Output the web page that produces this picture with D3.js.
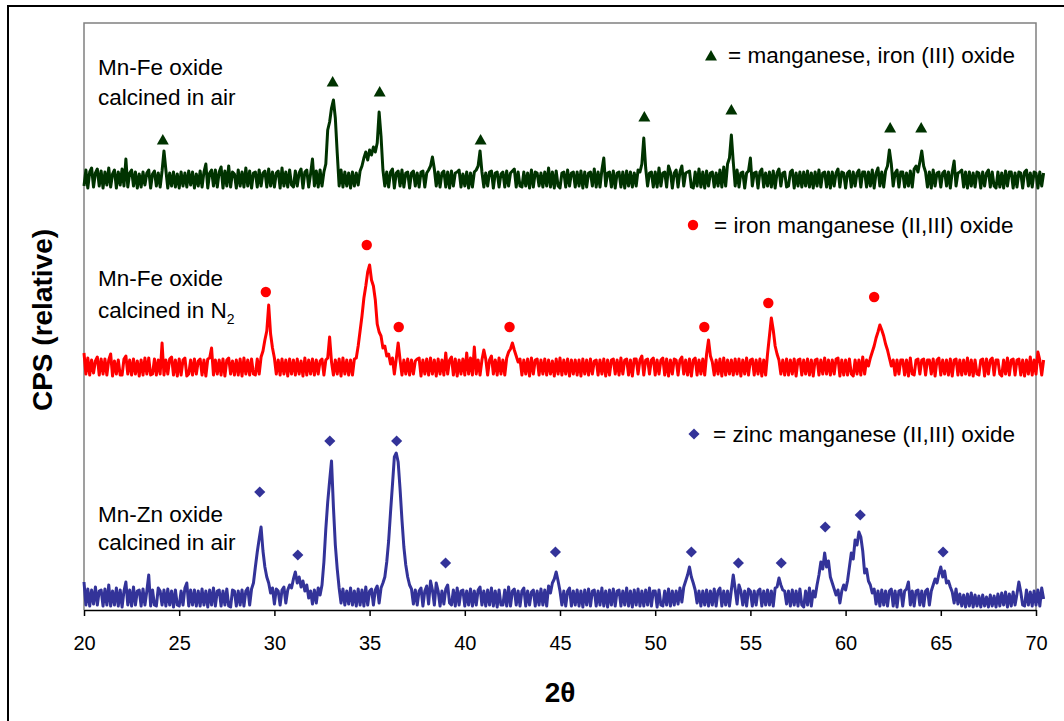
<!DOCTYPE html>
<html>
<head>
<meta charset="utf-8">
<script src="https://cdn.jsdelivr.net/npm/d3@7"></script>
<style>
  body { margin: 0; background: #fff; }
  svg text { font-family: "Liberation Sans", Arial, sans-serif; fill: #000; }
</style>
</head>
<body>
<svg id="chart" width="1064" height="721"></svg>
<script>
// scan grid (degrees 2-theta)
var scanStart = 20, scanStep = 0.1;

// relative counts above each trace's own baseline (one row = 1 degree)
var airFeCounts = [
  2,18,0,16,20,1,15,19,2,17, 0,16,3,20,1,14,18,0,16,3, 19,2,29,1,15,18,2,16,0,14,
  1,16,3,15,18,0,14,17,2,15, 1,17,37,18,0,15,2,16,1,14, 0,16,2,15,1,17,3,16,0,14,
  2,17,1,16,24,0,15,18,2,18, 1,16,21,0,17,2,22,1,16,14, 0,18,2,16,1,20,2,17,0,15,
  16,1,18,2,15,17,1,19,2,16, 1,15,17,0,20,2,16,1,18,3, 1,17,2,15,19,0,16,18,1,14,
  29,2,17,1,18,2,16,24,58,66, 80,88,70,35,2,18,1,16,2,15, 0,16,2,15,3,17,22,30,36,28,
  38,33,41,36,45,76,52,18,2,16, 1,16,19,0,15,17,2,18,1,15, 16,0,15,17,2,15,1,16,17,1,
  15,18,22,31,19,2,16,1,15,17, 1,16,0,17,2,15,16,18,1,14, 2,16,0,15,1,16,18,22,37,16,
  1,15,2,16,17,0,15,16,1,14, 16,1,17,2,15,17,19,1,16,2, 1,16,2,15,0,18,1,16,15,2,
  15,1,16,2,20,1,16,0,17,2, 0,15,16,1,18,2,15,16,1,16, 2,17,0,16,1,15,16,2,19,1,
  16,1,18,30,2,15,16,1,17,0, 15,16,1,16,0,17,2,16,1,15, 2,18,16,24,50,20,2,15,16,1,
  16,1,20,2,15,16,1,22,16,0, 15,18,1,16,22,2,15,16,17,1, 0,16,2,19,1,16,0,17,2,15,
  16,1,15,2,18,1,21,2,24,30, 53,26,2,18,1,15,16,0,15,17, 30,2,15,16,0,16,19,1,15,2,
  16,1,17,0,15,19,2,15,16,1, 2,16,18,0,15,2,16,1,16,2, 17,1,15,0,16,2,18,1,15,16,
  1,16,0,16,2,15,19,1,16,15, 0,15,17,1,16,2,15,18,1,16, 16,1,16,2,18,0,15,20,2,16,
  1,17,22,38,24,2,15,18,1,16, 16,1,15,2,17,1,19,22,16,26, 37,22,16,1,16,0,18,2,15,16,
  1,15,17,2,16,0,16,27,2,15, 16,18,1,16,0,16,2,15,1,16, 15,0,16,2,15,18,1,16,2,0,
  16,1,15,0,17,2,16,16,0,15, 1,16,15,0,16,18,2,15,1,16, 15,0,16,2,15
];
var nitrogenFeCounts = [
  23,2,18,1,16,3,15,19,1,17, 2,17,1,16,22,0,15,2,16,1, 1,17,20,2,16,1,17,2,15,0,
  16,1,18,2,18,1,2,17,1,16, 2,33,1,16,2,17,19,1,16,0, 17,1,16,18,0,2,16,1,17,2,
  15,17,1,16,0,17,18,28,1,16, 2,16,1,17,0,16,18,2,15,1, 16,1,17,0,18,2,16,1,17,2,
  1,17,2,19,25,36,45,71,42,28, 18,2,16,1,17,2,16,0,17,2, 16,1,17,2,15,0,18,1,16,2,
  17,1,16,2,15,17,1,16,18,39, 14,1,16,2,17,0,18,2,16,1, 16,1,17,18,30,45,60,78,90,104,
  111,96,90,76,52,44,40,28,30,20, 22,12,18,2,17,33,16,1,16,2, 17,1,16,2,15,17,18,0,16,2,
  17,1,18,2,16,0,17,2,16,1, 23,2,16,19,1,17,0,16,2,17, 1,23,2,18,1,29,2,16,1,16,
  26,17,1,16,20,2,16,1,18,2, 16,1,18,24,27,33,26,20,14,17, 1,16,2,17,0,18,2,16,17,1,
  16,2,17,1,16,2,15,0,17,2, 18,1,16,2,17,0,16,2,16,1, 16,0,17,2,16,1,17,2,15,16,
  1,16,2,17,0,16,1,16,17,2, 16,1,18,2,16,17,1,16,0,17, 17,2,16,20,1,16,17,2,16,18,
  1,16,2,16,18,1,17,0,16,2, 17,16,1,16,19,2,16,1,17,0, 16,18,1,16,2,17,1,22,36,20,
  14,1,16,2,17,0,18,1,16,2, 16,1,17,2,17,0,16,2,18,1, 16,17,1,16,2,17,0,16,1,22,
  40,58,46,30,22,16,2,16,1,17, 1,16,2,17,0,16,17,1,16,2, 17,1,16,0,16,17,1,16,2,18,
  2,16,1,16,2,17,18,0,16,1, 16,1,17,2,0,16,2,16,1,19, 2,16,10,18,24,30,38,44,51,46,
  40,32,26,18,10,16,1,16,2,16, 16,1,16,0,18,2,1,16,17,2, 16,17,1,16,16,2,17,0,16,18,
  1,16,2,16,1,17,0,16,17,1, 16,1,16,2,18,1,16,0,16,2, 1,16,17,0,17,2,16,18,1,16,
  16,2,0,16,2,18,1,16,17,1, 16,17,1,16,0,16,2,19,1,16, 2,24,16,1,16
];
var airZnCounts = [
  25,2,18,1,17,3,20,2,16,17, 1,18,2,22,1,16,2,19,1,17, 0,16,25,2,17,1,20,2,16,17,
  1,18,2,16,32,1,17,2,1,19, 16,2,17,1,18,2,16,0,17,2, 1,16,2,19,24,1,17,2,17,1,
  16,1,18,2,16,0,17,2,19,1, 16,17,1,16,2,18,1,0,17,16, 1,16,2,17,1,16,19,2,18,24,
  40,55,68,80,56,40,30,24,14,19, 3,18,16,2,17,20,4,17,22,19, 28,35,24,30,20,26,16,22,9,16,
  3,17,4,19,12,22,45,78,105,126, 146,100,62,38,19,4,18,2,16,3, 19,2,16,1,18,2,17,1,20,2,
  16,18,2,17,21,4,19,24,30,45, 66,95,122,150,154,145,118,87,60,42, 30,22,18,3,17,2,16,19,1,16,
  21,3,26,17,2,24,16,1,16,3, 18,22,4,2,17,1,19,2,16,17, 1,16,2,18,1,16,2,17,20,2,
  16,1,17,2,19,1,16,0,17,2, 2,17,1,20,1,16,18,2,16,1, 16,19,1,16,2,15,17,1,16,2,
  18,2,17,1,21,14,24,28,35,26, 16,2,16,1,16,19,1,16,2,17, 1,16,0,17,2,18,1,16,17,1,
  16,2,19,1,16,0,17,2,18,1, 16,17,1,16,2,19,1,16,0,17, 2,18,1,16,1,17,2,19,1,16,
  16,0,17,2,1,16,2,18,1,16, 2,16,3,19,5,20,26,32,40,30, 24,17,4,16,1,16,2,17,1,16,
  2,18,1,16,19,1,16,2,16,1, 17,32,18,3,22,16,2,16,1,18, 16,1,16,2,16,18,1,16,2,17,
  2,16,1,19,20,29,22,17,16,3, 16,1,17,2,16,1,18,2,0,16, 2,19,1,16,10,22,32,45,38,54,
  40,46,30,24,18,12,17,4,16,22, 17,26,40,54,48,67,62,75,70,56, 34,38,26,22,14,18,3,16,1,17,
  2,16,1,16,18,1,16,0,16,17, 1,16,18,25,2,16,1,16,17,2, 16,1,16,18,2,16,22,28,24,33,
  40,30,36,24,26,20,15,4,18,3, 13,1,12,0,13,1,14,0,12,1, 11,0,12,1,10,0,12,1,11,0,
  13,1,14,2,15,0,13,1,15,2, 13,25,15,2,1,17,2,15,1,16, 2,17,1,19,8
];

// vertical offsets of the stacked traces
var airFeOffset = 422, nitrogenFeOffset = 234, airZnOffset = 3;

// phase markers: 2-theta and height on the same relative scale
var triangleAngles = [24.14, 33.06, 35.53, 40.83, 49.43, 54.0, 62.34, 63.97];
var triangleLevels = [469, 527, 517, 469, 492, 499, 481, 481];
var circleAngles = [29.55, 34.85, 36.53, 42.35, 52.58, 55.94, 61.5];
var circleLevels = [318, 365, 283, 283, 283, 307, 313];
var diamondAngles = [29.23, 31.23, 32.91, 36.42, 38.99, 44.76, 51.9, 54.37, 56.62, 58.93, 60.77, 65.12];
var diamondLevels = [118, 55, 169, 169, 47, 58, 58, 47, 47, 83, 95, 58];

var xTicks = [20, 25, 30, 35, 40, 45, 50, 55, 60, 65, 70];

var green = "#003300", red = "#ff0000", blue = "#333399";

var svg = d3.select("#chart");
// note: "top" is taken by window.top, so plot edges get their own names
var plotLeft = 84, plotRight = 1036, plotTop = 23, plotBottom = 610;

var x = d3.scaleLinear().domain([20, 70]).range([plotLeft, plotRight]);
var y = d3.scaleLinear().domain([0, plotBottom - plotTop]).range([plotBottom, plotTop]);

// outer frame (only left and top edges visible)
svg.append("path")
  .attr("d", "M8,721V6H1064")
  .attr("fill", "none")
  .attr("stroke", "#000")
  .attr("stroke-width", 2);

// plot area border
svg.append("path")
  .attr("d", "M" + plotLeft + "," + plotBottom + "V" + plotTop + "H" + plotRight + "V" + plotBottom)
  .attr("fill", "none")
  .attr("stroke", "#808080")
  .attr("stroke-width", 1.5);

var drawTrace = function (counts, offset, color) {
  var line = d3.line()
    .x(function (d, i) { return x(scanStart + i * scanStep); })
    .y(function (d) { return y(offset + d); });
  svg.append("path")
    .datum(counts)
    .attr("d", line)
    .attr("fill", "none")
    .attr("stroke", color)
    .attr("stroke-width", 3)
    .attr("stroke-linejoin", "round");
};

drawTrace(airFeCounts, airFeOffset, green);
drawTrace(nitrogenFeCounts, nitrogenFeOffset, red);
drawTrace(airZnCounts, airZnOffset, blue);

// x axis
var xAxis = d3.axisBottom(x)
  .tickValues(xTicks)
  .tickSizeInner(6)
  .tickSizeOuter(0)
  .tickPadding(20);

var gx = svg.append("g")
  .attr("transform", "translate(0," + plotBottom + ")")
  .call(xAxis);
gx.select(".domain").attr("stroke", "#000").attr("stroke-width", 1.5);
gx.selectAll(".tick line").attr("stroke", "#000").attr("stroke-width", 1.5);
gx.selectAll(".tick text")
  .style("font-family", '"Liberation Sans", Arial, sans-serif')
  .style("font-size", "20px")
  .attr("fill", "#000");

// markers
var triangle = d3.symbol().type(d3.symbolTriangle).size(62);
var circle = d3.symbol().type(d3.symbolCircle).size(85);
var diamond = d3.symbol().type(d3.symbolSquare).size(62);

svg.append("g").selectAll("path")
  .data(triangleAngles).enter().append("path")
  .attr("d", triangle)
  .attr("fill", green)
  .attr("transform", function (d, i) { return "translate(" + x(d) + "," + y(triangleLevels[i]) + ")"; });

svg.append("g").selectAll("path")
  .data(circleAngles).enter().append("path")
  .attr("d", circle)
  .attr("fill", red)
  .attr("transform", function (d, i) { return "translate(" + x(d) + "," + y(circleLevels[i]) + ")"; });

svg.append("g").selectAll("path")
  .data(diamondAngles).enter().append("path")
  .attr("d", diamond)
  .attr("fill", blue)
  .attr("transform", function (d, i) { return "translate(" + x(d) + "," + y(diamondLevels[i]) + ") rotate(45)"; });

// legend-like notes
var note = function (tx, ty, str) {
  return svg.append("text")
    .attr("x", tx)
    .attr("y", ty)
    .style("font-size", "22.5px")
    .text(str);
};

svg.append("path").attr("d", triangle).attr("fill", green).attr("transform", "translate(711,57)");
note(728, 63, "= manganese, iron (III) oxide");
svg.append("path").attr("d", circle).attr("fill", red).attr("transform", "translate(693,225)");
note(714, 233, "= iron manganese (II,III) oxide");
svg.append("path").attr("d", diamond).attr("fill", blue).attr("transform", "translate(694,434) rotate(45)");
note(713, 442, "= zinc manganese (II,III) oxide");

// sample labels
note(98, 75, "Mn-Fe oxide");
note(98, 105, "calcined in air");
note(98, 286, "Mn-Fe oxide");
var n2 = note(98, 318, "calcined in N");
n2.append("tspan").attr("dy", 6).style("font-size", "14px").text("2");
note(98, 522, "Mn-Zn oxide");
note(98, 550, "calcined in air");

// axis titles
svg.append("text")
  .attr("x", 560)
  .attr("y", 702)
  .attr("text-anchor", "middle")
  .style("font-size", "28px")
  .style("font-weight", "bold")
  .text("2θ");

svg.append("text")
  .attr("transform", "translate(52,320) rotate(-90)")
  .attr("text-anchor", "middle")
  .style("font-size", "28px")
  .style("font-weight", "bold")
  .text("CPS (relative)");
</script>
</body>
</html>
